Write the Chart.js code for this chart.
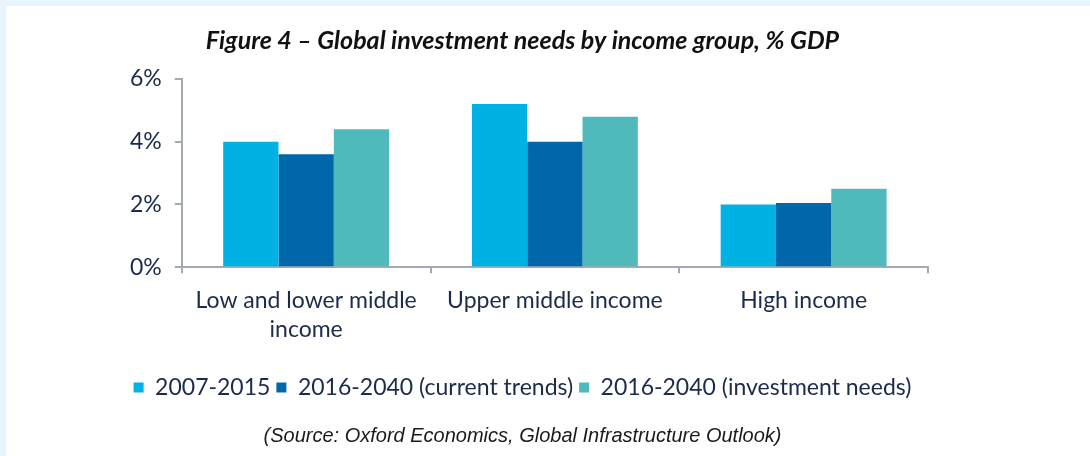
<!DOCTYPE html>
<html>
<head>
<meta charset="utf-8">
<script src="https://cdn.jsdelivr.net/npm/chart.js@4.4.1/dist/chart.umd.min.js"></script>
<style>
  html, body { margin: 0; padding: 0; background: #e8f4fb; }
  .frame { position: absolute; left: 6px; top: 6px; width: 1084px; height: 450px; background: #ffffff; }
</style>
</head>
<body>
<div class="frame"><canvas id="chart" width="1084" height="450"></canvas></div>
<script>
// chart data
const categories = [['Low and lower middle', 'income'], 'Upper middle income', 'High income'];
const seriesNames = ['2007-2015', '2016-2040 (current trends)', '2016-2040 (investment needs)'];
const past = [4.0, 5.2, 2.0];
const currentTrends = [3.6, 4.0, 2.05];
const investmentNeeds = [4.4, 4.8, 2.5];
const yTicks = [0, 2, 4, 6];

const seriesColors = ['#00b2e3', '#0067ab', '#4fb9bb'];
const textColor = '#1b2b4a';
const axisColor = '#a3aab3';

const ctx = document.getElementById('chart');
new Chart(ctx, {
    type: 'bar',
    data: {
        labels: categories,
        datasets: [past, currentTrends, investmentNeeds].map((values, i) => ({
            label: seriesNames[i],
            data: values,
            backgroundColor: seriesColors[i],
            borderWidth: 0,
            barPercentage: 1,
            categoryPercentage: 0.667
        }))
    },
    options: {
        responsive: false,
        animation: false,
        layout: { padding: { left: 111, right: 162, top: 20, bottom: 8 } },
        plugins: {
            tooltip: { enabled: false },
            title: {
                display: true,
                text: 'Figure 4 \u2013 Global investment needs by income group, % GDP',
                color: '#111111',
                font: { family: 'Lato', size: 25, weight: 'bold', style: 'italic' },
                padding: { top: 0, bottom: 23 }
            },
            legend: {
                position: 'bottom',
                labels: {
                    color: textColor,
                    font: { family: 'Lato', size: 23 },
                    boxWidth: 10,
                    boxHeight: 10,
                    padding: 6
                }
            },
            subtitle: {
                display: true,
                position: 'bottom',
                text: '(Source: Oxford Economics, Global Infrastructure Outlook)',
                color: '#1a1a1a',
                font: { family: 'Liberation Sans', size: 20, style: 'italic' },
                padding: { top: 15, bottom: 0 }
            }
        },
        scales: {
            x: {
                border: { display: true, color: axisColor, width: 2 },
                grid: { drawOnChartArea: false, drawTicks: true, tickLength: 6, color: axisColor, lineWidth: 2 },
                ticks: {
                    color: textColor,
                    font: { family: 'Lato', size: 23, lineHeight: 1.3 },
                    padding: 12,
                    maxRotation: 0
                },
                // leave room between the category labels and the legend
                afterFit: axis => { axis.height += 13; }
            },
            y: {
                min: 0,
                max: 6,
                afterBuildTicks: axis => { axis.ticks = yTicks.map(v => ({ value: v })); },
                border: { display: true, color: axisColor, width: 2 },
                grid: { drawOnChartArea: false, drawTicks: true, tickLength: 7, color: axisColor, lineWidth: 2 },
                ticks: {
                    color: textColor,
                    font: { family: 'Lato', size: 23 },
                    padding: 13,
                    callback: v => v + '%'
                }
            }
        }
    }
});
</script>
</body>
</html>
